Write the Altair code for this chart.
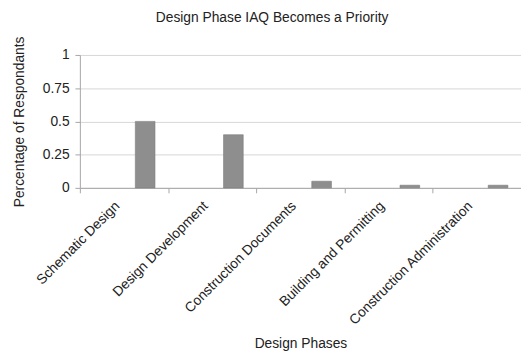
import altair as alt
import pandas as pd

phases = ["Schematic Design", "Design Development", "Construction Documents",
          "Building and Permitting", "Construction Administration"]
values = [0.5, 0.4, 0.05, 0.02, 0.02]
y_ticks = [0, 0.25, 0.5, 0.75, 1]

df = pd.DataFrame({"phase": phases, "value": values})

FONT = "Liberation Sans"
W, H = 448, 135

bars = alt.Chart(df).mark_bar(
    width=20, xOffset=21.5, color="#8e8e8e", stroke="#7d7d7d", strokeWidth=0.6
).encode(
    x=alt.X("phase:N", sort=phases,
            scale=alt.Scale(paddingInner=0, paddingOuter=0),
            axis=alt.Axis(title="Design Phases", labelAngle=-45, labelAlign="right",
                          labelBaseline="middle", labelPadding=11, labelOffset=-7,
                          tickSize=5, tickBand="extent", grid=False,
                          titleX=W / 2, titleY=158, titleBaseline="middle")),
    y=alt.Y("value:Q", scale=alt.Scale(domain=[0, 1], nice=False),
            axis=alt.Axis(title="Percentage of Respondants", values=y_ticks,
                          labelExpr="format(datum.value, '~g')",
                          tickSize=5, labelPadding=6, grid=True,
                          titleAngle=-90, titleX=-61, titleY=H / 2,
                          titleBaseline="middle", titleAlign="center")),
)

chart = bars.properties(
    width=W, height=H,
    title=alt.TitleParams("Design Phase IAQ Becomes a Priority", anchor="middle",
                          frame="bounds", fontSize=14, fontWeight="normal",
                          font=FONT, color="#222222", offset=11, dx=5),
    autosize=alt.AutoSizeParams(type="none"),
    padding={"left": 73, "top": 45, "right": 0, "bottom": 164},
).configure_view(stroke=None).configure_axis(
    labelFont=FONT, titleFont=FONT, labelFontSize=14, titleFontSize=14,
    labelColor="#222222", titleColor="#222222", titleFontWeight="normal",
    domainColor="#a6a6a6", tickColor="#a6a6a6", gridColor="#d6d6d6",
)

chart.save("out.html", embed_options={"renderer": "svg", "actions": False})
